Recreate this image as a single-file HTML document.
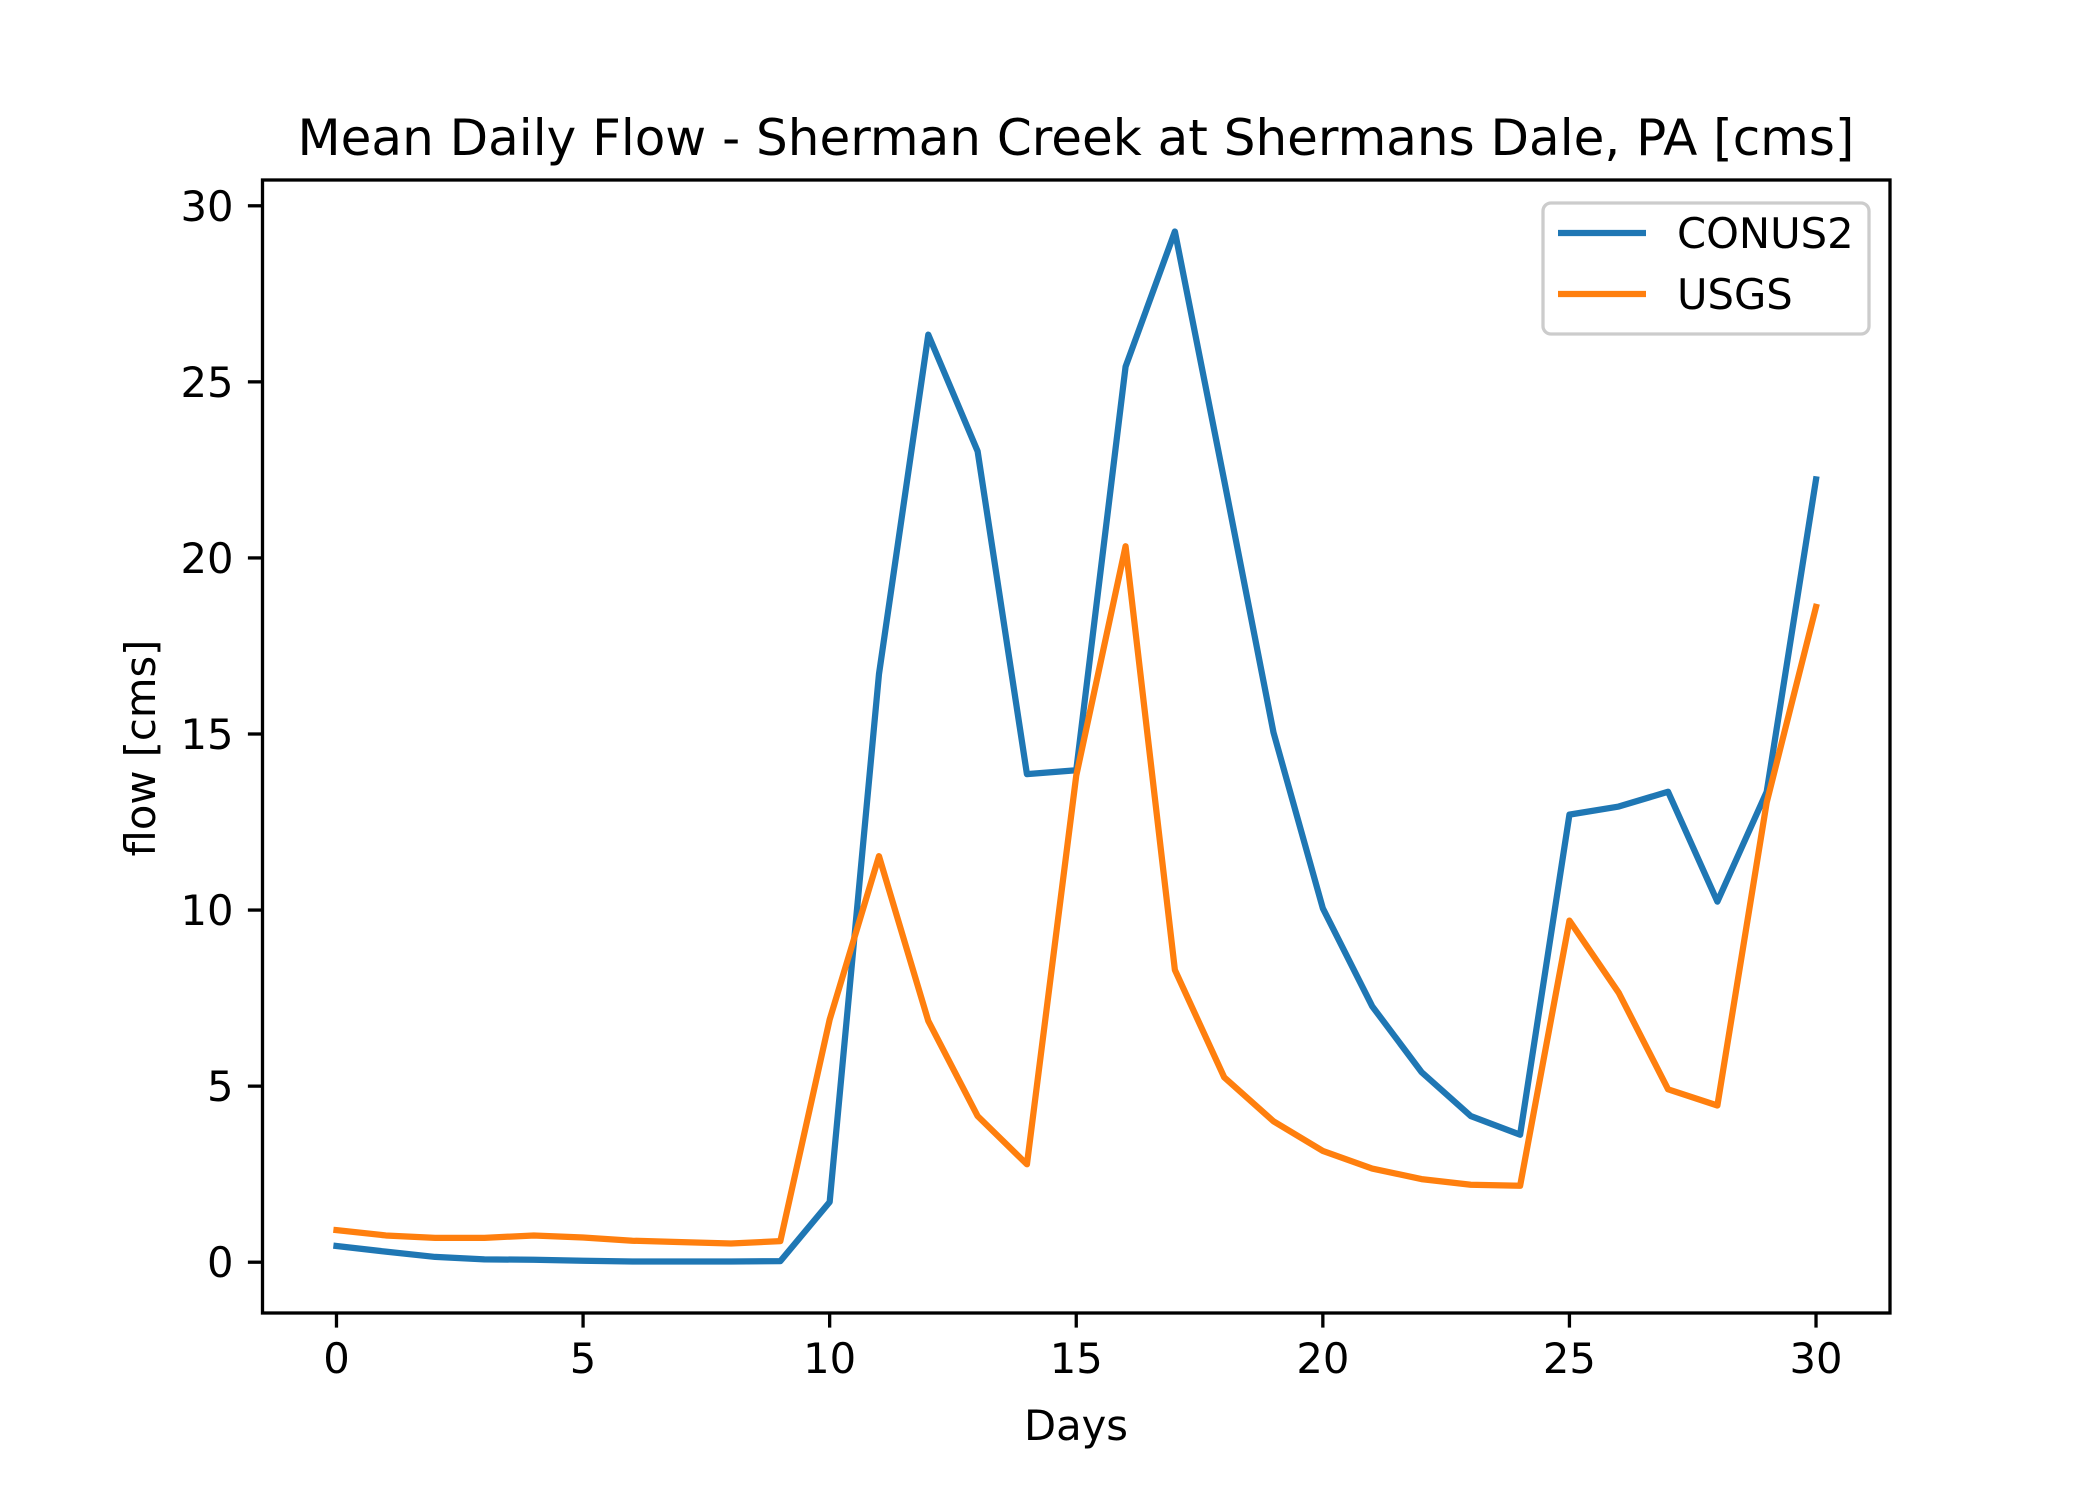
<!DOCTYPE html>
<html><head><meta charset="utf-8"><style>
html,body{margin:0;padding:0;background:#fff;}
svg{display:block;font-family:"DejaVu Sans","Liberation Sans",sans-serif;}
</style></head><body>
<svg id="chart" width="2100" height="1500" viewBox="0 0 2100 1500">
<rect x="0" y="0" width="2100" height="1500" fill="#fff"/>
<text x="1076" y="155" font-size="50" text-anchor="middle">Mean Daily Flow - Sherman Creek at Shermans Dale, PA [cms]</text>
<g id="ticks"></g>
<g id="series"></g>
<rect x="262.5" y="180" width="1627.5" height="1133" fill="none" stroke="#000" stroke-width="3.3"/>
<text x="1076" y="1440" font-size="41.7" text-anchor="middle">Days</text>
<text x="0" y="0" font-size="41.7" text-anchor="middle" transform="translate(155,748) rotate(-90)">flow [cms]</text>
<g>
<rect x="1543" y="203" width="326" height="131" rx="8" fill="#fff" fill-opacity="0.8" stroke="#cccccc" stroke-width="3.3"/>
<line x1="1558" y1="233" x2="1646" y2="233" stroke="#1f77b4" stroke-width="6.25"/>
<text x="1677" y="248" font-size="41.7">CONUS2</text>
<line x1="1558" y1="294" x2="1646" y2="294" stroke="#ff7f0e" stroke-width="6.25"/>
<text x="1677" y="309" font-size="41.7">USGS</text>
</g>
</svg>
<script>
const days = [0,1,2,3,4,5,6,7,8,9,10,11,12,13,14,15,16,17,18,19,20,21,22,23,24,25,26,27,28,29,30];
const conus2 = [0.46,0.3,0.15,0.08,0.07,0.04,0.02,0.02,0.02,0.03,1.71,16.7,26.34,23.03,13.86,13.97,25.43,29.27,22.2,15.04,10.05,7.27,5.4,4.15,3.62,12.71,12.94,13.36,10.24,13.36,22.23];
const usgs = [0.91,0.76,0.69,0.69,0.76,0.70,0.61,0.57,0.53,0.6,6.89,11.53,6.85,4.15,2.78,13.82,20.33,8.3,5.25,4.0,3.16,2.66,2.36,2.2,2.17,9.7,7.65,4.91,4.45,13.06,18.61];
const xTicks = [0,5,10,15,20,25,30];
const yTicks = [0,5,10,15,20,25,30];

const L=262.5,R=1890,T=180,B=1313;
const allV = conus2.concat(usgs);
const vmin=Math.min(...allV), vmax=Math.max(...allV);
const yLo=vmin-0.05*(vmax-vmin), yHi=vmax+0.05*(vmax-vmin);
const xMin=Math.min(...days), xMax=Math.max(...days);
const xLo=xMin-0.05*(xMax-xMin), xHi=xMax+0.05*(xMax-xMin);
function sx(v){return L+(v-xLo)/(xHi-xLo)*(R-L);}
function sy(v){return B-(v-yLo)/(yHi-yLo)*(B-T);}
const NS='http://www.w3.org/2000/svg';
const tg=document.getElementById('ticks');
xTicks.forEach(t=>{
  const ln=document.createElementNS(NS,'line');
  ln.setAttribute('x1',sx(t));ln.setAttribute('x2',sx(t));
  ln.setAttribute('y1',B);ln.setAttribute('y2',B+14.6);
  ln.setAttribute('stroke','#000');ln.setAttribute('stroke-width','3.3');
  
  
  tg.appendChild(ln);
  const tx=document.createElementNS(NS,'text');
  tx.setAttribute('x',sx(t));tx.setAttribute('y',B+60);
  tx.setAttribute('font-size','41.7');tx.setAttribute('text-anchor','middle');
  tx.textContent=t;
  
  
  tg.appendChild(tx);
});
yTicks.forEach(t=>{
  const ln=document.createElementNS(NS,'line');
  ln.setAttribute('x1',L-14.6);ln.setAttribute('x2',L);
  ln.setAttribute('y1',sy(t));ln.setAttribute('y2',sy(t));
  ln.setAttribute('stroke','#000');ln.setAttribute('stroke-width','3.3');
  
  
  tg.appendChild(ln);
  const tx=document.createElementNS(NS,'text');
  tx.setAttribute('x',L-29);tx.setAttribute('y',sy(t)+15);
  tx.setAttribute('font-size','41.7');tx.setAttribute('text-anchor','end');
  tx.textContent=t;
  
  
  tg.appendChild(tx);
});
const sg=document.getElementById('series');
[[conus2,'#1f77b4','line-conus2'],[usgs,'#ff7f0e','line-usgs']].forEach(([vals,col,nm])=>{
  const p=document.createElementNS(NS,'polyline');
  p.setAttribute('points',vals.map((v,i)=>sx(days[i])+','+sy(v)).join(' '));
  p.setAttribute('fill','none');p.setAttribute('stroke',col);
  p.setAttribute('stroke-width','6.25');p.setAttribute('stroke-linejoin','round');
  p.setAttribute('stroke-linecap','square');
  
  
  sg.appendChild(p);
});
</script>
</body></html>
